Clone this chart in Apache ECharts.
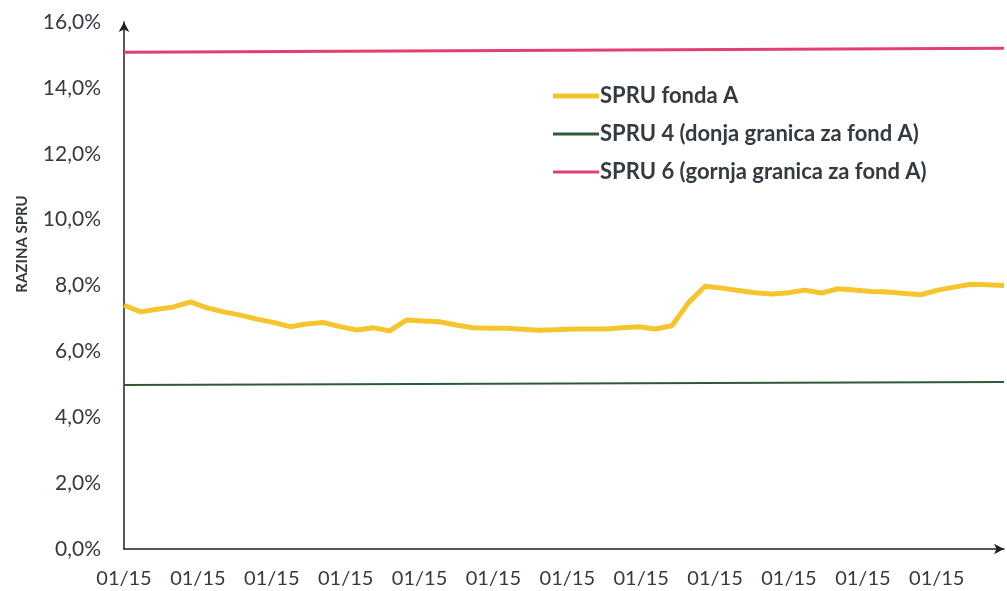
<!DOCTYPE html>
<html>
<head>
<meta charset="utf-8">
<script src="https://cdn.jsdelivr.net/npm/echarts@6/dist/echarts.min.js"></script>
<style>
  html, body { margin: 0; padding: 0; background: #fff; }
  #chart { width: 1007px; height: 591px; }
</style>
</head>
<body>
<div id="chart"></div>
<script>
// weekly observations (index) and the fund's SPRU level in %
const weeks = [0, 1, 2, 3, 4, 5, 6, 7, 8, 9, 10, 11, 12, 13, 14, 15, 16, 17, 18, 19, 20,
  21, 22, 23, 24, 25, 26, 27, 28, 29, 30, 31, 32, 33, 34, 35, 36, 37, 38, 39, 40, 41,
  42, 43, 44, 45, 46, 47, 48, 49, 50, 51, 52, 53]
const spruFondaA = [7.4, 7.2, 7.28, 7.35, 7.5, 7.32, 7.2, 7.1, 6.98, 6.88, 6.75, 6.83,
  6.88, 6.75, 6.65, 6.72, 6.62, 6.95, 6.92, 6.9, 6.8, 6.72, 6.7, 6.7, 6.67, 6.64, 6.66,
  6.68, 6.68, 6.68, 6.72, 6.75, 6.68, 6.78, 7.48, 7.98, 7.92, 7.85, 7.78, 7.74, 7.78,
  7.86, 7.77, 7.9, 7.86, 7.82, 7.8, 7.76, 7.72, 7.86, 7.95, 8.04, 8.02, 8.0]
// the two limits, read at the start and end of the period
const limitWeeks = [0, 53]
const spru4 = [4.98, 5.07]
const spru6 = [15.08, 15.2]
const xTickLabel = '01/15'

const zip = (xs, ys) => xs.map((x, i) => [x, ys[i]])

const chart = echarts.init(document.getElementById('chart'))
const textColor = '#333a40'
const font = 'Lato, sans-serif'

const yellow = '#f6c52e'
const green = '#2f5a3a'
const red = '#e2416f'

// one legend per item so each icon can keep its own line thickness
function legendItem(name, top, thickness) {
  return {
    orient: 'vertical',
    left: 548,
    top: top,
    icon: 'rect',
    itemWidth: 46,
    itemHeight: thickness,
    textStyle: { color: textColor, fontSize: 22, fontWeight: 'bold', fontFamily: font, padding: [0, 0, 0, -4] },
    data: [name]
  }
}

chart.setOption({
  animation: false,
  legend: [
    legendItem('SPRU fonda A', 80, 5),
    legendItem('SPRU 4 (donja granica za fond A)', 118, 3),
    legendItem('SPRU 6 (gornja granica za fond A)', 156, 3)
  ],
  graphic: [{
    type: 'text',
    x: 22,
    y: 244,
    rotation: Math.PI / 2,
    style: {
      text: 'RAZINA SPRU',
      fill: textColor,
      font: 'bold 15px Lato, sans-serif',
      align: 'center',
      verticalAlign: 'middle'
    }
  }],
  grid: { left: 124, right: 3, top: 22, bottom: 42 },
  xAxis: {
    type: 'value',
    min: 0,
    max: 53,
    interval: 4.45,
    axisLine: { lineStyle: { color: '#222', width: 1.5 }, symbol: ['none', 'arrow'], symbolSize: [8, 10] },
    axisTick: { show: false },
    splitLine: { show: false },
    axisLabel: {
      showMaxLabel: false,
      margin: 20,
      color: textColor,
      fontSize: 20,
      fontFamily: font,
      formatter: () => xTickLabel
    }
  },
  yAxis: {
    type: 'value',
    min: 0,
    max: 16,
    interval: 2,
    axisLine: { show: true, lineStyle: { color: '#222', width: 1.5 }, symbol: ['none', 'arrow'], symbolSize: [8, 10] },
    axisTick: { show: false },
    splitLine: { show: false },
    axisLabel: {
      margin: 23,
      color: textColor,
      fontSize: 21,
      fontFamily: font,
      formatter: v => v.toFixed(1).replace('.', ',') + '%'
    }
  },
  series: [
    {
      name: 'SPRU fonda A',
      type: 'line',
      symbol: 'none',
      data: zip(weeks, spruFondaA),
      lineStyle: { color: yellow, width: 5 },
      itemStyle: { color: yellow },
      z: 3
    },
    {
      name: 'SPRU 4 (donja granica za fond A)',
      type: 'line',
      symbol: 'none',
      data: zip(limitWeeks, spru4),
      lineStyle: { color: green, width: 2 },
      itemStyle: { color: green }
    },
    {
      name: 'SPRU 6 (gornja granica za fond A)',
      type: 'line',
      symbol: 'none',
      data: zip(limitWeeks, spru6),
      lineStyle: { color: red, width: 3 },
      itemStyle: { color: red }
    }
  ]
})
</script>
</body>
</html>
